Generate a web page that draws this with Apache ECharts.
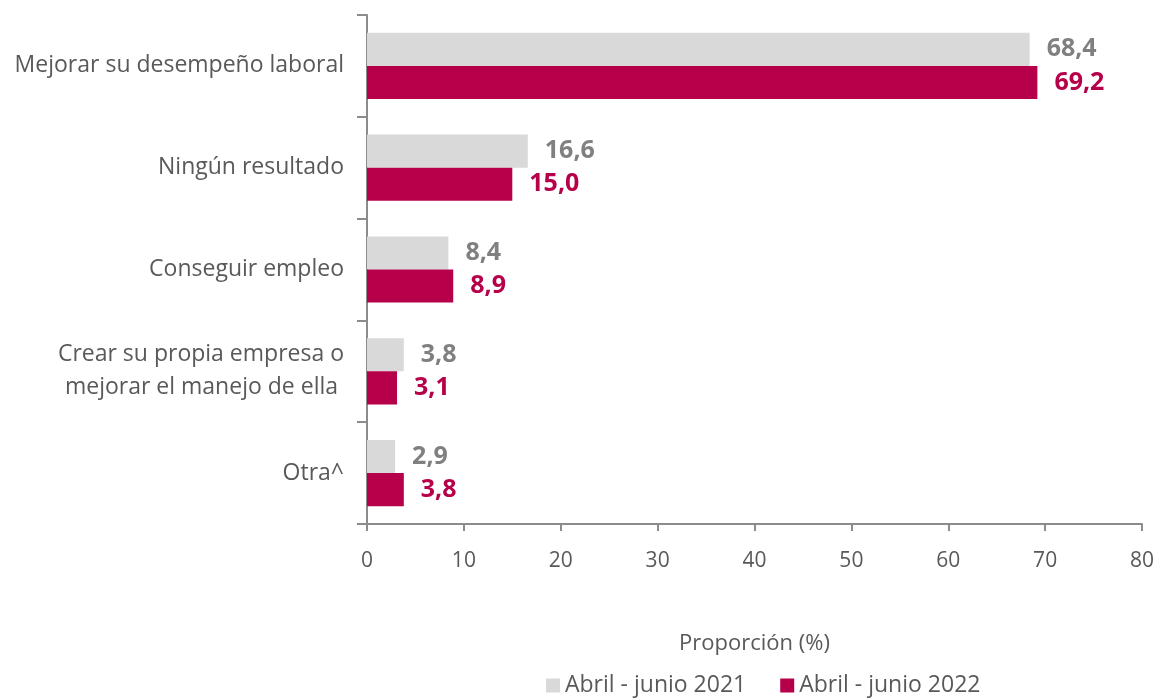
<!DOCTYPE html>
<html>
<head>
<meta charset="utf-8">
<script src="https://cdn.jsdelivr.net/npm/echarts@6/dist/echarts.min.js"></script>
<style>
  html, body { margin: 0; padding: 0; background: #fff; }
  #chart { width: 1159px; height: 700px; }
</style>
</head>
<body>
<div id="chart"></div>
<script>
// categorías (de arriba a abajo)
const categories = [
  'Mejorar su desempeño laboral',
  'Ningún resultado',
  'Conseguir empleo',
  'Crear su propia empresa o\nmejorar el manejo de ella ',
  'Otra^'
]
const serie2021 = [68.4, 16.6, 8.4, 3.8, 2.9]
const serie2022 = [69.2, 15.0, 8.9, 3.1, 3.8]
const xTicks = [0, 10, 20, 30, 40, 50, 60, 70, 80]

const font = 'Open Sans'
const gris = '#d9d9d9'
const rojo = '#b7004a'

const chart = echarts.init(document.getElementById('chart'))

function etiqueta (color) {
  return {
    show: true,
    position: 'right',
    distance: 17,
    color: color,
    fontFamily: font,
    fontSize: 25,
    fontWeight: 'bold',
    formatter: p => p.value.toFixed(1).replace('.', ',')
  }
}

chart.setOption({
  animation: false,
  textStyle: { fontFamily: font },
  grid: { left: 367, right: 17, top: 15, bottom: 176, containLabel: false },
  legend: {
    bottom: -2,
    left: 541,
    itemWidth: 14,
    itemHeight: 14,
    itemGap: 34,
    icon: 'rect',
    textStyle: { color: '#595959', fontSize: 23, fontFamily: font },
    data: ['Abril - junio 2021', 'Abril - junio 2022']
  },
  xAxis: {
    type: 'value',
    min: xTicks[0],
    max: xTicks[xTicks.length - 1],
    interval: 10,
    name: 'Proporción (%)',
    nameLocation: 'middle',
    nameGap: 109,
    nameTextStyle: { color: '#595959', fontSize: 22, fontFamily: font },
    axisLine: { show: true, lineStyle: { color: '#8c8c8c', width: 2 } },
    axisTick: { show: true, length: 7, lineStyle: { color: '#8c8c8c', width: 2 } },
    axisLabel: { color: '#595959', fontSize: 21, margin: 27, fontFamily: font },
    splitLine: { show: false }
  },
  yAxis: {
    type: 'category',
    inverse: true,
    data: categories,
    axisLine: { show: true, lineStyle: { color: '#8c8c8c', width: 2 } },
    axisTick: { show: true, length: 10, lineStyle: { color: '#8c8c8c', width: 2 } },
    axisLabel: { color: '#595959', fontSize: 23, margin: 23, fontFamily: font, lineHeight: 33 }
  },
  series: [
    {
      name: 'Abril - junio 2021',
      type: 'bar',
      data: serie2021,
      barGap: '0%',
      barCategoryGap: '35%',
      itemStyle: { color: gris },
      label: etiqueta('#808080')
    },
    {
      name: 'Abril - junio 2022',
      type: 'bar',
      data: serie2022,
      itemStyle: { color: rojo },
      label: etiqueta(rojo)
    }
  ]
})
</script>
</body>
</html>
